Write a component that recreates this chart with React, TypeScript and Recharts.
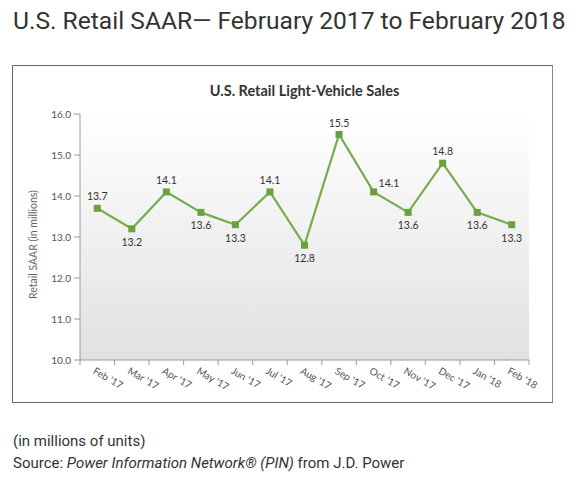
import { LineChart, Line, XAxis, YAxis, CartesianGrid, LabelList } from 'recharts';

const months = ["Feb '17", "Mar '17", "Apr '17", "May '17", "Jun '17", "Jul '17", "Aug '17", "Sep '17", "Oct '17", "Nov '17", "Dec '17", "Jan '18", "Feb '18"];
const sales = [13.7, 13.2, 14.1, 13.6, 13.3, 14.1, 12.8, 15.5, 14.1, 13.6, 14.8, 13.6, 13.3];
const yTicks = [10, 11, 12, 13, 14, 15, 16];
// where each value label sits relative to its point
const labelSide = ['top', 'bottom', 'top', 'bottom', 'bottom', 'top', 'bottom', 'top', 'right', 'bottom', 'top', 'bottom', 'bottom'];

const data = months.map((m, i) => ({ month: m, sales: sales[i] }));

const PLOT_LEFT = 80;
const PLOT_RIGHT = 529;
const BAND = (PLOT_RIGHT - PLOT_LEFT) / months.length;
const chartFont = 'Lato, "Open Sans", sans-serif';
const headFont = 'Roboto, "Liberation Sans", sans-serif';

function MonthTick(props: any) {
  const { x, y, payload, index } = props;
  const half = BAND / 2;
  const tx = x - 5;
  const ty = y + 13;
  return (
    <g>
      <line x1={x - half} y1={y} x2={x - half} y2={y + 5} stroke="#9a9a9a" />
      {index === months.length - 1 && (
        <line x1={x + half} y1={y} x2={x + half} y2={y + 5} stroke="#9a9a9a" />
      )}
      <text
        x={tx}
        y={ty}
        transform={`rotate(30 ${tx} ${ty})`}
        textAnchor="start"
        fontSize={10}
        fontFamily={chartFont}
        fill="#555"
      >
        {payload.value}
      </text>
    </g>
  );
}

function ValueLabel(props: any) {
  const { x, y, value, index } = props;
  const side = labelSide[index];
  let lx = x;
  let ly = y - 8;
  let anchor: 'middle' | 'start' = 'middle';
  if (side === 'bottom') ly = y + 17;
  if (side === 'right') {
    lx = x + 5;
    ly = y - 5;
    anchor = 'start';
  }
  return (
    <text x={lx} y={ly} textAnchor={anchor} fontSize={10.5} fontFamily={chartFont} fill="#333">
      {Number(value).toFixed(1)}
    </text>
  );
}

function SquareDot(props: any) {
  const { cx, cy } = props;
  if (cx == null || cy == null) return null;
  return <rect x={cx - 3.5} y={cy - 3.5} width={7} height={7} fill="#6aa13d" />;
}

export default function App() {
  return (
    <div style={{ position: 'absolute', left: 0, top: 0, width: 587, height: 478, background: '#fff', overflow: 'hidden' }}>
      <div
        style={{
          position: 'absolute',
          left: 13,
          top: 5,
          fontFamily: headFont,
          fontSize: 24.6,
          lineHeight: '32px',
          color: '#333',
          letterSpacing: 0,
          whiteSpace: 'nowrap',
        }}
      >
        U.S. Retail SAAR— February 2017 to February 2018
      </div>
      <div
        style={{
          position: 'absolute',
          left: 12,
          top: 65,
          width: 541,
          height: 338,
          border: '1px solid #666',
          borderRight: '1px solid #888',
          boxSizing: 'border-box',
        }}
      />
      <div
        style={{
          position: 'absolute',
          left: PLOT_LEFT,
          width: PLOT_RIGHT - PLOT_LEFT,
          top: 82,
          textAlign: 'center',
          fontFamily: chartFont,
          fontWeight: 700,
          fontSize: 14.5,
          color: '#333',
        }}
      >
        U.S. Retail Light-Vehicle Sales
      </div>
      <div style={{ position: 'absolute', left: 0, top: 0 }}>
        <LineChart width={587} height={478} data={data} margin={{ top: 114, right: 587 - PLOT_RIGHT, left: PLOT_LEFT - 50, bottom: 78 }}>
          <defs>
            <linearGradient id="plotBg" x1="0" y1="0" x2="0" y2="1">
              <stop offset="0%" stopColor="#ffffff" />
              <stop offset="100%" stopColor="#e1e1e1" />
            </linearGradient>
          </defs>
          <CartesianGrid horizontal={false} vertical={false} fill="url(#plotBg)" />
          <XAxis
            dataKey="month"
            interval={0}
            height={40}
            padding={{ left: BAND / 2, right: BAND / 2 }}
            tickLine={false}
            tickSize={0}
            tickMargin={0}
            stroke="#9a9a9a"
            tick={<MonthTick />}
          />
          <YAxis
            width={50}
            domain={[10, 16]}
            ticks={yTicks}
            tickFormatter={(v: number) => v.toFixed(1)}
            tickSize={6}
            tickMargin={3}
            stroke="#9a9a9a"
            tick={{ fontSize: 10, fill: '#555', fontFamily: chartFont }}
            label={{
              value: 'Retail SAAR (in millions)',
              angle: -90,
              position: 'insideLeft',
              dx: -2,
              dy: 62,
              style: { fontSize: 10.5, fill: '#666', fontFamily: chartFont },
            }}
          />
          <Line
            type="linear"
            dataKey="sales"
            stroke="#77ad4c"
            strokeWidth={2.2}
            dot={<SquareDot />}
            activeDot={false}
            isAnimationActive={false}
          >
            <LabelList dataKey="sales" content={<ValueLabel />} />
          </Line>
        </LineChart>
      </div>
      <div
        style={{
          position: 'absolute',
          left: 13,
          top: 430,
          fontFamily: headFont,
          fontSize: 15,
          lineHeight: '22px',
          color: '#333',
          whiteSpace: 'nowrap',
        }}
      >
        <div>(in millions of units)</div>
        <div>
          Source: <i>Power Information Network® (PIN)</i> from J.D. Power
        </div>
      </div>
    </div>
  );
}
